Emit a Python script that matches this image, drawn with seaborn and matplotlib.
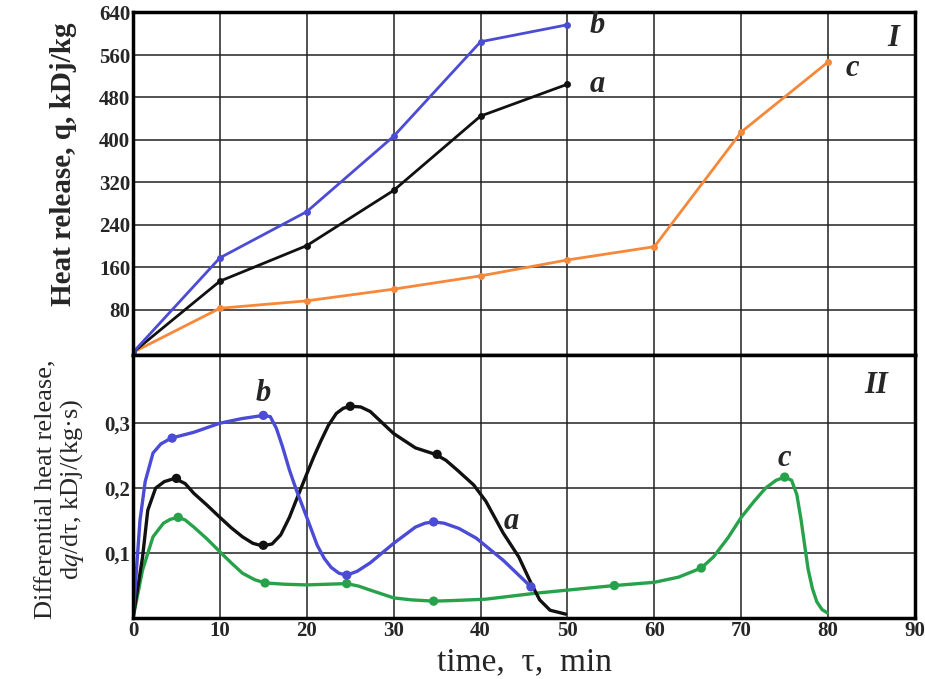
import numpy as np
import pandas as pd
import matplotlib
matplotlib.use("Agg")
import matplotlib.pyplot as plt
import seaborn as sns

# ---- panel I : integral heat release, q (kDj/kg) ----
time_ab = [0, 10, 20, 30, 40, 50]
q_a = [0, 134, 201, 305, 445, 505]
q_b = [0, 178, 265, 407, 585, 617]
time_c = [0, 10, 20, 30, 40, 50, 60, 70, 80]
q_c = [0, 83, 97, 119, 144, 174, 199, 415, 547]

# ---- panel II : differential heat release, dq/dt (traced curves) ----
a_t = [0, 1.1, 1.7, 2.6, 3.6, 4.8, 6, 7, 8.5, 10, 11.3, 12.6, 13.8, 14.9, 16, 17,
       18, 18.8, 20, 20.8, 21.6, 22.5, 23.4, 24.2, 25.1, 26.2, 27.3, 30, 32.5,
       34.8, 36, 37.3, 39.2, 40.6, 42.6, 44.4, 45.8, 46.8, 48, 49.8]
a_dq = [0, 0.094, 0.166, 0.200, 0.210, 0.215, 0.207, 0.192, 0.174, 0.155, 0.139,
        0.125, 0.115, 0.111, 0.114, 0.128, 0.155, 0.182, 0.222, 0.248, 0.272,
        0.297, 0.315, 0.323, 0.326, 0.325, 0.318, 0.284, 0.262, 0.252, 0.243,
        0.228, 0.205, 0.180, 0.131, 0.094, 0.054, 0.028, 0.012, 0.006]
a_mark_t = [5, 15, 25, 35]
a_mark_dq = [0.215, 0.112, 0.326, 0.252]

b_t = [0, 0.8, 1.4, 2.3, 3.2, 4.4, 7, 10, 12.5, 14, 15, 15.8, 16.5, 17.2, 18,
       18.8, 20, 21.2, 22, 22.8, 23.7, 24.6, 25.8, 27.3, 30, 32.5, 33.6, 34.6,
       35.8, 37.5, 39.5, 42.6, 45.8]
b_dq = [0, 0.15, 0.21, 0.254, 0.268, 0.277, 0.286, 0.300, 0.307, 0.310, 0.312,
        0.310, 0.292, 0.264, 0.228, 0.197, 0.155, 0.112, 0.092, 0.078, 0.069,
        0.066, 0.072, 0.085, 0.115, 0.140, 0.146, 0.148, 0.146, 0.138, 0.123,
        0.089, 0.048]
b_mark_t = [4.5, 15, 24.6, 34.6, 45.8]
b_mark_dq = [0.277, 0.312, 0.066, 0.148, 0.048]

c_t = [0, 1.1, 2.3, 3.5, 4.3, 5.2, 6, 7, 8.5, 10, 11.3, 12.6, 14, 15.2, 17.5,
       20, 24.6, 26, 27.3, 30, 32, 34.6, 37, 40.6, 46.2, 50, 55.4, 60, 62.8,
       65.4, 66.8, 68.5, 70, 71.5, 72.8, 74, 75, 75.8, 76.4, 76.9, 77.3, 77.7,
       78.2, 78.7, 79.3, 79.9]
c_dq = [0, 0.074, 0.125, 0.146, 0.152, 0.155, 0.151, 0.140, 0.122, 0.102, 0.085,
        0.069, 0.059, 0.054, 0.052, 0.051, 0.053, 0.049, 0.043, 0.031, 0.028,
        0.026, 0.027, 0.029, 0.038, 0.043, 0.050, 0.055, 0.063, 0.077, 0.094,
        0.124, 0.155, 0.180, 0.200, 0.212, 0.217, 0.212, 0.190, 0.150, 0.112,
        0.075, 0.045, 0.025, 0.013, 0.008]
c_mark_t = [5.2, 15.2, 24.6, 34.6, 55.4, 65.4, 75]
c_mark_dq = [0.155, 0.054, 0.053, 0.026, 0.050, 0.077, 0.217]

x_ticks = [0, 10, 20, 30, 40, 50, 60, 70, 80, 90]
q_ticks = [80, 160, 240, 320, 400, 480, 560, 640]
dq_ticks = [0.1, 0.2, 0.3]
dq_ticklabels = ["0,1", "0,2", "0,3"]

BLUE = "#4b4bd6"
BLACK = "#111111"
ORANGE = "#f5883a"
GREEN = "#27a24a"

sns.set_style("white")
plt.rcParams["font.family"] = ["Liberation Serif", "DejaVu Serif"]
plt.rcParams["mathtext.fontset"] = "stix"

fig = plt.figure(figsize=(9.25, 6.79), dpi=100)
ax1 = fig.add_axes([0.1438, 0.4772, 0.8454, 0.5051])
ax2 = fig.add_axes([0.1438, 0.0898, 0.8454, 0.3874], sharex=ax1)

# top panel: straight polylines with dot markers
for t, q, col in [(time_c, q_c, ORANGE), (time_ab, q_a, BLACK), (time_ab, q_b, BLUE)]:
    sns.lineplot(x=t, y=q, color=col, lw=2, marker="o", markersize=5,
                 markeredgewidth=0, sort=False, ax=ax1)

# bottom panel: traced smooth curves + point markers
for t, v, mt, mv, col in [(c_t, c_dq, c_mark_t, c_mark_dq, GREEN),
                          (a_t, a_dq, a_mark_t, a_mark_dq, BLACK),
                          (b_t, b_dq, b_mark_t, b_mark_dq, BLUE)]:
    sns.lineplot(x=t, y=v, color=col, lw=2.4, sort=False, ax=ax2)
    sns.scatterplot(x=mt, y=mv, color=col, s=45, edgecolor="none", ax=ax2, zorder=4)

ax1.set_xlim(0, 90)
ax1.set_ylim(-5, 641)
ax2.set_ylim(0, 0.405)

for ax in (ax1, ax2):
    ax.set_xticks(x_ticks)
    ax.grid(True, color="#222222", lw=1.1)
    ax.set_axisbelow(True)
    for s in ax.spines.values():
        s.set_linewidth(2.5)
        s.set_color("black")
    ax.tick_params(length=0, labelsize=15, pad=2)

ax1.set_yticks(q_ticks)
ax1.set_yticklabels([str(v) for v in q_ticks], fontweight="bold")
ax1.tick_params(labelbottom=False)
ax2.set_yticks(dq_ticks)
ax2.set_yticklabels(dq_ticklabels, fontweight="bold")
ax2.set_xticklabels([str(v) for v in x_ticks], fontweight="bold")

ax1.set_ylabel("Heat release, q, kDj/kg", fontsize=21, fontweight="bold")
ax1.yaxis.set_label_coords(-0.072, 0.555)
ax2.set_ylabel("Differential heat release,\nd$q$/d\u03c4, kDj/(kg\u00b7s)", fontsize=19,
               linespacing=1.05)
ax2.yaxis.set_label_coords(-0.06, 0.49)
ax2.set_xlabel("time,  \u03c4,  min", fontsize=24, labelpad=4)

# curve labels
lbl = dict(fontsize=22, fontweight="bold", fontstyle="italic")
ax1.text(52.5, 615, "b", va="center", **lbl)
ax1.text(52.5, 505, "a", va="center", **lbl)
ax1.text(82, 535, "c", va="center", **lbl)
ax1.text(87.5, 592, "I", va="center", ha="center", **lbl)
ax2.text(15, 0.345, "b", ha="center", va="center", **lbl)
ax2.text(43.5, 0.148, "a", ha="center", va="center", **lbl)
ax2.text(75, 0.245, "c", ha="center", va="center", **lbl)
ax2.text(85.5, 0.358, "II", ha="center", va="center", **lbl)

fig.savefig("out.png", dpi=100)
